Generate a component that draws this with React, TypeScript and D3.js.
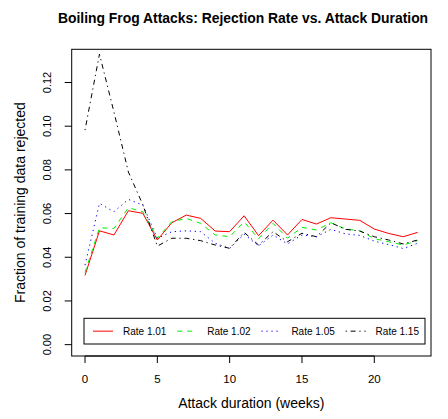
import React from "react";
import * as d3 from "d3";

const weeks = [0, 1, 2, 3, 4, 5, 6, 7, 8, 9, 10, 11, 12, 13, 14, 15, 16, 17, 18, 19, 20, 21, 22, 23];
const rate101 = [0.0317, 0.0521, 0.0502, 0.0613, 0.0601, 0.0479, 0.0558, 0.0593, 0.0578, 0.052, 0.0517, 0.059, 0.0499, 0.057, 0.0502, 0.0573, 0.0552, 0.0581, 0.0575, 0.0569, 0.0529, 0.0509, 0.0494, 0.0514];
const rate102 = [0.033, 0.0535, 0.0532, 0.0627, 0.0608, 0.0487, 0.0563, 0.0578, 0.0555, 0.0502, 0.0494, 0.0562, 0.0485, 0.0555, 0.0487, 0.0537, 0.0525, 0.0558, 0.053, 0.0521, 0.0485, 0.0471, 0.0456, 0.0476];
const rate105 = [0.0364, 0.0647, 0.0608, 0.0665, 0.0639, 0.0487, 0.0517, 0.0521, 0.0517, 0.0464, 0.0441, 0.0506, 0.0452, 0.0502, 0.0461, 0.0502, 0.0494, 0.0528, 0.0507, 0.05, 0.0474, 0.0458, 0.044, 0.0464];
const rate115 = [0.0982, 0.133, 0.1065, 0.079, 0.064, 0.0451, 0.0487, 0.0487, 0.0476, 0.0456, 0.0441, 0.0514, 0.0456, 0.0517, 0.0471, 0.051, 0.0494, 0.0558, 0.0528, 0.052, 0.0494, 0.0479, 0.0461, 0.0479];
const seriesNames = ["Rate 1.01", "Rate 1.02", "Rate 1.05", "Rate 1.15"];
const xTicks = [0, 5, 10, 15, 20];
const yTicks = [0, 0.02, 0.04, 0.06, 0.08, 0.1, 0.12];

const W = 448;
const H = 419;
const FONT = "'Liberation Sans', Arial, Helvetica, sans-serif";

export default function App() {
  const left = 71.7, right = 431, top = 49.3, bottom = 356;
  const xlim = [0, 23];
  const ylim = [0, 0.13];
  const xe = (xlim[1] - xlim[0]) * 0.04;
  const ye = (ylim[1] - ylim[0]) * 0.04;
  const x = d3.scaleLinear().domain([xlim[0] - xe, xlim[1] + xe]).range([left, right]);
  const y = d3.scaleLinear().domain([ylim[0] - ye, ylim[1] + ye]).range([bottom, top]);

  const styles = [
    { color: "#FF0000", dash: undefined as string | undefined },
    { color: "#00EE00", dash: "5,5" },
    { color: "#0000FF", dash: "1.25,3.75" },
    { color: "#000000", dash: "1.25,3.75,5,3.75" },
  ];
  const data = [rate101, rate102, rate105, rate115];
  const line = d3
    .line<number>()
    .x((_, i) => x(weeks[i]))
    .y((d) => y(d));

  const legTop = 318.3, legBottom = 344, legLeft = 84, legRight = 425;
  const legY = (legTop + legBottom) / 2;

  return (
    <svg width={W} height={H} style={{ position: "absolute", left: 0, top: 0, background: "#fff" }} fontFamily={FONT}>
      <rect x={0} y={0} width={W} height={H} fill="#fff" />
      <text x={243} y={23} textAnchor="middle" fontWeight="bold" fontSize={13.9} fill="#000">
        Boiling Frog Attacks: Rejection Rate vs. Attack Duration
      </text>
      {data.map((d, k) => (
        <path
          key={k}
          d={line(d) || ""}
          fill="none"
          stroke={styles[k].color}
          strokeWidth={1}
          strokeDasharray={styles[k].dash}
        />
      ))}
      <rect x={left} y={top} width={right - left} height={bottom - top} fill="none" stroke="#000" strokeWidth={1} />
      {/* x axis */}
      <line x1={x(xTicks[0])} x2={x(xTicks[xTicks.length - 1])} y1={bottom} y2={bottom} stroke="#000" />
      {xTicks.map((t) => (
        <g key={t}>
          <line x1={x(t)} x2={x(t)} y1={bottom} y2={bottom + 7} stroke="#000" />
          <text x={x(t)} y={383} textAnchor="middle" fontSize={11.5} fill="#000">
            {t}
          </text>
        </g>
      ))}
      {/* y axis */}
      {yTicks.map((t) => (
        <g key={t}>
          <line x1={left} x2={left - 7} y1={y(t)} y2={y(t)} stroke="#000" />
          <text
            transform={`translate(50.5,${y(t)}) rotate(-90)`}
            textAnchor="middle"
            fontSize={11}
            fill="#000"
          >
            {t.toFixed(2)}
          </text>
        </g>
      ))}
      <text x={251.3} y={407.5} textAnchor="middle" fontSize={14} fill="#000">
        Attack duration (weeks)
      </text>
      <text transform={`translate(25,${(top + bottom) / 2}) rotate(-90)`} textAnchor="middle" fontSize={14} fill="#000">
        Fraction of training data rejected
      </text>
      {/* legend */}
      <rect x={legLeft} y={legTop} width={legRight - legLeft} height={legBottom - legTop} fill="#fff" stroke="#000" />
      {seriesNames.map((name, k) => {
        const sx = 93 + k * 84.2;
        return (
          <g key={name}>
            <line
              x1={sx}
              x2={sx + 20}
              y1={legY}
              y2={legY}
              stroke={styles[k].color}
              strokeDasharray={styles[k].dash}
            />
            <text x={sx + 30} y={legY + 3.6} fontSize={10} fill="#000">
              {name}
            </text>
          </g>
        );
      })}
    </svg>
  );
}
